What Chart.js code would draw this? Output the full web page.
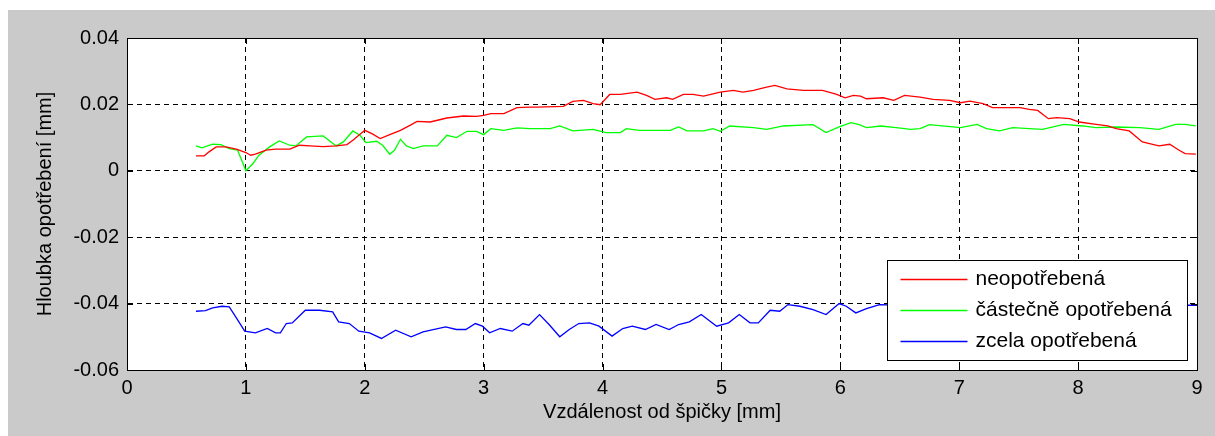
<!DOCTYPE html>
<html>
<head>
<meta charset="utf-8">
<script src="https://cdn.jsdelivr.net/npm/chart.js@4/dist/chart.umd.min.js"></script>
<style>
  html, body { margin: 0; padding: 0; background: #fff; }
  #wrap { position: absolute; left: 8px; top: 10px; width: 1207px; height: 426px; background: #cacaca; }
</style>
</head>
<body>
<div id="wrap"><canvas id="wearChart" width="1207" height="426"></canvas></div>
<script>
const seriesNames = ['neopotřebená', 'částečně opotřebená', 'zcela opotřebená'];
const seriesColors = ['#ff0000', '#00ff00', '#0000ff'];

const redX = [0.58, 0.65, 0.69, 0.75, 0.83, 0.92, 1.0, 1.04, 1.08, 1.17, 1.25, 1.37, 1.45, 1.54, 1.65, 1.76, 1.85, 1.9, 2.0, 2.06,
  2.13, 2.21, 2.3, 2.38, 2.44, 2.55, 2.69, 2.83, 2.94, 3.0, 3.06, 3.17, 3.28, 3.39, 3.45, 3.67, 3.75, 3.84, 3.92, 3.98,
  4.06, 4.15, 4.29, 4.37, 4.44, 4.54, 4.59, 4.68, 4.76, 4.85, 4.99, 5.1, 5.18, 5.27, 5.38, 5.45, 5.55, 5.69, 5.85, 5.97,
  6.04, 6.11, 6.17, 6.22, 6.36, 6.45, 6.54, 6.67, 6.78, 6.92, 7.01, 7.09, 7.2, 7.28, 7.51, 7.59, 7.66, 7.75, 7.82, 7.93,
  8.01, 8.15, 8.25, 8.32, 8.43, 8.54, 8.68, 8.77, 8.85, 8.9, 8.99];
const redY = [0.0045, 0.0045, 0.0057, 0.0072, 0.0072, 0.0065, 0.0055, 0.0047, 0.005, 0.0062, 0.0065, 0.0065, 0.0077, 0.0075, 0.0073, 0.0075, 0.0079, 0.0092, 0.0122, 0.0112,
  0.0097, 0.0109, 0.0122, 0.0137, 0.0149, 0.0147, 0.0159, 0.0165, 0.0164, 0.0167, 0.0172, 0.0172, 0.019, 0.0192, 0.0192, 0.0194, 0.0209, 0.0212, 0.0202, 0.0199,
  0.023, 0.023, 0.0237, 0.0227, 0.0215, 0.022, 0.0215, 0.023, 0.023, 0.0225, 0.0237, 0.0242, 0.0237, 0.0242, 0.0252, 0.0257, 0.0247, 0.0242, 0.0242, 0.023,
  0.022, 0.0227, 0.0225, 0.0217, 0.022, 0.0212, 0.0227, 0.0222, 0.0215, 0.0212, 0.0205, 0.021, 0.0202, 0.019, 0.019, 0.0185, 0.0182, 0.0157, 0.016, 0.0157,
  0.0147, 0.014, 0.0135, 0.0127, 0.012, 0.0087, 0.0075, 0.008, 0.0062, 0.0052, 0.005];

const greenX = [0.58, 0.63, 0.72, 0.79, 0.86, 0.93, 0.97, 1.0, 1.06, 1.11, 1.2, 1.28, 1.37, 1.42, 1.51, 1.65, 1.76, 1.82, 1.9, 1.96,
  2.01, 2.1, 2.15, 2.21, 2.25, 2.3, 2.35, 2.41, 2.49, 2.61, 2.69, 2.77, 2.86, 2.94, 3.0, 3.06, 3.17, 3.28, 3.39, 3.56,
  3.64, 3.75, 3.92, 4.03, 4.15, 4.2, 4.31, 4.57, 4.64, 4.71, 4.85, 4.93, 4.99, 5.07, 5.27, 5.38, 5.52, 5.77, 5.88, 5.99,
  6.09, 6.16, 6.22, 6.34, 6.47, 6.59, 6.67, 6.75, 7.01, 7.15, 7.23, 7.34, 7.45, 7.59, 7.7, 7.88, 8.04, 8.15, 8.32, 8.52,
  8.68, 8.82, 8.9, 8.99];
const greenY = [0.0075, 0.0069, 0.008, 0.0079, 0.0067, 0.0062, 0.0027, 0.0, 0.0022, 0.0047, 0.0072, 0.009, 0.0077, 0.0075, 0.0102, 0.0105, 0.0075, 0.0087, 0.012, 0.0107,
  0.0085, 0.0089, 0.0077, 0.005, 0.0062, 0.0095, 0.0075, 0.0067, 0.0075, 0.0075, 0.0107, 0.01, 0.0119, 0.0119, 0.0109, 0.0127, 0.0122, 0.0129, 0.0127, 0.0127,
  0.0135, 0.012, 0.0125, 0.0115, 0.0115, 0.0127, 0.0122, 0.0122, 0.0132, 0.012, 0.012, 0.0127, 0.0119, 0.0135, 0.013, 0.0125, 0.0135, 0.0139, 0.0115, 0.0132,
  0.0145, 0.0139, 0.013, 0.0135, 0.013, 0.0125, 0.0127, 0.0139, 0.013, 0.014, 0.0127, 0.012, 0.013, 0.0127, 0.0125, 0.014, 0.0135, 0.013, 0.0132, 0.013,
  0.0125, 0.014, 0.014, 0.0135];

const blueX = [0.58, 0.66, 0.72, 0.8, 0.86, 0.92, 0.99, 1.08, 1.18, 1.25, 1.29, 1.34, 1.39, 1.5, 1.62, 1.73, 1.78, 1.87, 1.95, 2.04,
  2.14, 2.26, 2.39, 2.49, 2.68, 2.77, 2.85, 2.93, 2.99, 3.05, 3.14, 3.24, 3.33, 3.38, 3.47, 3.55, 3.64, 3.72, 3.8, 3.89,
  3.97, 4.08, 4.17, 4.25, 4.36, 4.45, 4.56, 4.64, 4.73, 4.83, 4.96, 5.06, 5.15, 5.24, 5.31, 5.41, 5.49, 5.56, 5.66, 5.77,
  5.88, 5.99, 6.05, 6.13, 6.22, 6.33, 6.5, 6.8, 7.1, 7.5, 7.9, 8.3, 8.7, 8.95, 9.0];
const blueY = [-0.0423, -0.0421, -0.0413, -0.0408, -0.041, -0.0443, -0.0483, -0.0488, -0.0475, -0.0488, -0.0488, -0.046, -0.0458, -0.042, -0.042, -0.0425, -0.0455, -0.046, -0.0483, -0.0488,
  -0.0505, -0.048, -0.05, -0.0485, -0.047, -0.0478, -0.0478, -0.046, -0.0468, -0.0488, -0.0475, -0.0483, -0.046, -0.0465, -0.0433, -0.0463, -0.05, -0.0478, -0.046, -0.0458,
  -0.0468, -0.0498, -0.0475, -0.0468, -0.0478, -0.0463, -0.0478, -0.0463, -0.0455, -0.0433, -0.0468, -0.0458, -0.0433, -0.0458, -0.0458, -0.042, -0.0423, -0.0403, -0.0408, -0.0418,
  -0.0433, -0.04, -0.0408, -0.0428, -0.0415, -0.0403, -0.0405, -0.041, -0.0408, -0.041, -0.0405, -0.041, -0.0405, -0.0405, -0.0405];

const xTickLabels = ['0', '1', '2', '3', '4', '5', '6', '7', '8', '9'];
const yTickLabels = ['-0.06', '-0.04', '-0.02', '0', '0.02', '0.04'];

const toPoints = (xs, ys) => xs.map((x, i) => ({ x: x, y: ys[i] }));
const allX = [redX, greenX, blueX];
const allY = [redY, greenY, blueY];

Chart.defaults.font.family = '"Liberation Sans", Arial, sans-serif';
Chart.defaults.color = '#000';

// white axes background, box with inward ticks, MATLAB style legend inside
const framePlugin = {
  id: 'frame',
  beforeDraw(chart) {
    const a = chart.chartArea;
    chart.ctx.save();
    chart.ctx.fillStyle = '#fff';
    chart.ctx.fillRect(a.left, a.top, a.right - a.left, a.bottom - a.top);
    chart.ctx.restore();
  },
  afterDraw(chart) {
    const ctx = chart.ctx;
    const a = chart.chartArea;
    const xs = chart.scales.x, ys = chart.scales.y;
    ctx.save();
    ctx.strokeStyle = '#000';
    ctx.lineWidth = 1;
    ctx.setLineDash([]);
    ctx.beginPath();
    xs.ticks.forEach(t => {
      const px = Math.round(xs.getPixelForValue(t.value)) + 0.5;
      ctx.moveTo(px, a.bottom); ctx.lineTo(px, a.bottom - 6);
      ctx.moveTo(px, a.top); ctx.lineTo(px, a.top + 6);
    });
    ys.ticks.forEach(t => {
      const py = Math.round(ys.getPixelForValue(t.value)) + 0.5;
      ctx.moveTo(a.left, py); ctx.lineTo(a.left + 6, py);
      ctx.moveTo(a.right, py); ctx.lineTo(a.right - 6, py);
    });
    ctx.stroke();
    ctx.strokeRect(Math.round(a.left) + 0.5, Math.round(a.top) + 0.5, Math.round(a.right - a.left), Math.round(a.bottom - a.top));

    // legend
    const w = 300, h = 100;
    const lx = Math.round(a.right - 10 - w) + 0.5;
    const ly = Math.round(a.bottom - 10 - h) + 0.5;
    ctx.fillStyle = '#fff';
    ctx.fillRect(lx, ly, w, h);
    ctx.strokeRect(lx, ly, w, h);
    ctx.font = '21px "Liberation Sans", Arial, sans-serif';
    ctx.textBaseline = 'middle';
    chart.data.datasets.forEach((ds, i) => {
      const y = Math.round(ly + 18 + i * 31) + 0.5;
      ctx.strokeStyle = ds.borderColor;
      ctx.lineWidth = 1.3;
      ctx.beginPath();
      ctx.moveTo(lx + 13, y); ctx.lineTo(lx + 80, y);
      ctx.stroke();
      ctx.fillStyle = '#000';
      ctx.fillText(ds.label, lx + 88, y);
    });
    ctx.restore();
  }
};

new Chart(document.getElementById('wearChart'), {
  type: 'line',
  data: {
    datasets: seriesNames.map((name, i) => ({
      label: name,
      data: toPoints(allX[i], allY[i]),
      borderColor: seriesColors[i],
      borderWidth: 1.3,
      pointRadius: 0,
      tension: 0,
      fill: false
    }))
  },
  options: {
    responsive: false,
    animation: false,
    events: [],
    layout: { padding: { left: 0, top: 28, right: 18, bottom: 0 } },
    plugins: {
      legend: { display: false },
      tooltip: { enabled: false }
    },
    scales: {
      x: {
        type: 'linear',
        min: 0,
        max: 9,
        afterFit: s => { s.height = 66; },
        afterBuildTicks: s => { s.ticks = xTickLabels.map(v => ({ value: Number(v) })); },
        grid: { color: '#000', lineWidth: 1, drawTicks: false },
        border: { display: true, color: '#000', dash: [5, 4] },
        ticks: {
          padding: 6,
          font: { size: 20 },
          color: '#000',
          maxRotation: 0,
          callback: (v, i) => xTickLabels[i]
        },
        title: {
          display: true,
          text: 'Vzdálenost od špičky [mm]',
          font: { size: 20 },
          color: '#000',
          padding: { top: 0, bottom: 12 }
        }
      },
      y: {
        type: 'linear',
        min: -0.06,
        max: 0.04,
        afterFit: s => { s.width = 119; },
        afterBuildTicks: s => { s.ticks = yTickLabels.map(v => ({ value: Number(v) })); },
        grid: { color: '#000', lineWidth: 1, drawTicks: false },
        border: { display: true, color: '#000', dash: [5, 4] },
        ticks: {
          padding: 8,
          font: { size: 20 },
          color: '#000',
          callback: (v, i) => yTickLabels[i]
        },
        title: {
          display: true,
          text: 'Hloubka opotřebení [mm]',
          font: { size: 20 },
          color: '#000',
          padding: { top: 25, bottom: 0 }
        }
      }
    }
  },
  plugins: [framePlugin]
});
</script>
</body>
</html>
